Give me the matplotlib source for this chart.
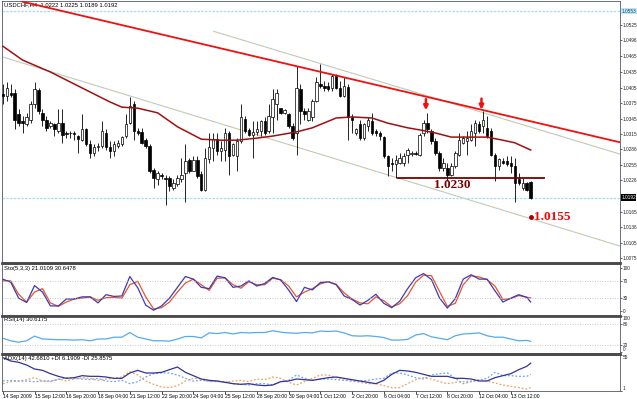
import numpy as np
import matplotlib
matplotlib.use("Agg")
import matplotlib.pyplot as plt
from matplotlib.lines import Line2D

plt.rcParams["font.family"] = ["Liberation Sans", "DejaVu Sans"]

# USDCHF H4 candles (bar 0 = 14 Sep 2009)
opens = [1.0392, 1.0389, 1.0395, 1.0395, 1.0353, 1.0340, 1.0334, 1.0343, 1.0373, 1.0400,
         1.0356, 1.0343, 1.0330, 1.0335, 1.0321, 1.0337, 1.0317, 1.0316, 1.0317, 1.0311,
         1.0304, 1.0324, 1.0295, 1.0279, 1.0290, 1.0292, 1.0317, 1.0290, 1.0282, 1.0292,
         1.0295, 1.0311, 1.0337, 1.0373, 1.0321, 1.0319, 1.0304, 1.0292, 1.0246, 1.0227,
         1.0236, 1.0230, 1.0229, 1.0210, 1.0218, 1.0227, 1.0240, 1.0264, 1.0244, 1.0264,
         1.0238, 1.0207, 1.0266, 1.0287, 1.0306, 1.0283, 1.0285, 1.0317, 1.0275, 1.0272,
         1.0301, 1.0345, 1.0322, 1.0313, 1.0319, 1.0321, 1.0341, 1.0321, 1.0347, 1.0373,
         1.0366, 1.0356, 1.0354, 1.0330, 1.0317, 1.0402, 1.0360, 1.0343, 1.0347, 1.0379,
         1.0412, 1.0408, 1.0408, 1.0405, 1.0428, 1.0405, 1.0389, 1.0406, 1.0347, 1.0317,
         1.0334, 1.0308, 1.0330, 1.0340, 1.0321, 1.0317, 1.0309, 1.0272, 1.0259, 1.0256,
         1.0259, 1.0259, 1.0275, 1.0277, 1.0279, 1.0275, 1.0317, 1.0337, 1.0321, 1.0301,
         1.0279, 1.0249, 1.0249, 1.0236, 1.0253, 1.0275, 1.0298, 1.0301, 1.0304, 1.0317,
         1.0334, 1.0330, 1.0327, 1.0321, 1.0275, 1.0253, 1.0262, 1.0262, 1.0259, 1.0253,
         1.0227, 1.0210, 1.0220, 1.0222]
highs = [1.0412, 1.0415, 1.0412, 1.0402, 1.0363, 1.0350, 1.0356, 1.0379, 1.0415, 1.0405,
         1.0363, 1.0350, 1.0340, 1.0337, 1.0363, 1.0363, 1.0321, 1.0321, 1.0321, 1.0313,
         1.0353, 1.0327, 1.0304, 1.0295, 1.0298, 1.0340, 1.0324, 1.0301, 1.0301, 1.0304,
         1.0311, 1.0353, 1.0386, 1.0379, 1.0327, 1.0327, 1.0308, 1.0295, 1.0249, 1.0243,
         1.0240, 1.0236, 1.0233, 1.0227, 1.0236, 1.0269, 1.0295, 1.0269, 1.0272, 1.0272,
         1.0243, 1.0288, 1.0317, 1.0317, 1.0317, 1.0301, 1.0327, 1.0321, 1.0298, 1.0308,
         1.0373, 1.0350, 1.0327, 1.0340, 1.0340, 1.0343, 1.0347, 1.0373, 1.0402, 1.0402,
         1.0366, 1.0363, 1.0356, 1.0337, 1.0447, 1.0412, 1.0366, 1.0366, 1.0382, 1.0425,
         1.0451, 1.0418, 1.0415, 1.0431, 1.0431, 1.0418, 1.0425, 1.0412, 1.0353, 1.0327,
         1.0343, 1.0337, 1.0347, 1.0356, 1.0324, 1.0321, 1.0311, 1.0275, 1.0269, 1.0275,
         1.0279, 1.0279, 1.0288, 1.0282, 1.0282, 1.0317, 1.0343, 1.0356, 1.0324, 1.0308,
         1.0282, 1.0269, 1.0259, 1.0259, 1.0282, 1.0317, 1.0311, 1.0321, 1.0334, 1.0343,
         1.0340, 1.0360, 1.0350, 1.0327, 1.0279, 1.0269, 1.0269, 1.0272, 1.0272, 1.0269,
         1.0240, 1.0230, 1.0223, 1.0225]
lows = [1.0373, 1.0379, 1.0386, 1.0324, 1.0330, 1.0317, 1.0330, 1.0337, 1.0366, 1.0353,
        1.0330, 1.0321, 1.0327, 1.0311, 1.0317, 1.0298, 1.0308, 1.0308, 1.0304, 1.0279,
        1.0301, 1.0292, 1.0269, 1.0272, 1.0282, 1.0288, 1.0285, 1.0269, 1.0272, 1.0287,
        1.0292, 1.0308, 1.0334, 1.0304, 1.0314, 1.0295, 1.0288, 1.0240, 1.0210, 1.0217,
        1.0227, 1.0178, 1.0204, 1.0207, 1.0214, 1.0223, 1.0184, 1.0240, 1.0243, 1.0230,
        1.0204, 1.0204, 1.0259, 1.0262, 1.0275, 1.0262, 1.0262, 1.0236, 1.0272, 1.0243,
        1.0298, 1.0317, 1.0311, 1.0269, 1.0313, 1.0311, 1.0314, 1.0317, 1.0317, 1.0343,
        1.0353, 1.0353, 1.0327, 1.0304, 1.0275, 1.0334, 1.0343, 1.0340, 1.0340, 1.0376,
        1.0405, 1.0399, 1.0399, 1.0399, 1.0402, 1.0386, 1.0386, 1.0304, 1.0317, 1.0314,
        1.0304, 1.0304, 1.0321, 1.0314, 1.0311, 1.0304, 1.0269, 1.0233, 1.0243, 1.0230,
        1.0256, 1.0253, 1.0259, 1.0272, 1.0275, 1.0272, 1.0311, 1.0317, 1.0295, 1.0275,
        1.0243, 1.0243, 1.0225, 1.0233, 1.0249, 1.0272, 1.0295, 1.0275, 1.0301, 1.0292,
        1.0317, 1.0317, 1.0308, 1.0272, 1.0225, 1.0246, 1.0256, 1.0253, 1.0240, 1.0184,
        1.0217, 1.0207, 1.0204, 1.0189]
closes = [1.0389, 1.0405, 1.0390, 1.0343, 1.0337, 1.0337, 1.0347, 1.0373, 1.0402, 1.0360,
          1.0343, 1.0327, 1.0337, 1.0324, 1.0337, 1.0314, 1.0315, 1.0316, 1.0315, 1.0306,
          1.0324, 1.0295, 1.0279, 1.0290, 1.0292, 1.0321, 1.0290, 1.0282, 1.0295, 1.0298,
          1.0309, 1.0334, 1.0369, 1.0321, 1.0317, 1.0298, 1.0292, 1.0243, 1.0230, 1.0240,
          1.0233, 1.0227, 1.0214, 1.0220, 1.0230, 1.0236, 1.0262, 1.0244, 1.0264, 1.0233,
          1.0207, 1.0269, 1.0290, 1.0306, 1.0282, 1.0287, 1.0317, 1.0272, 1.0295, 1.0301,
          1.0347, 1.0321, 1.0313, 1.0319, 1.0324, 1.0341, 1.0317, 1.0350, 1.0382, 1.0395,
          1.0356, 1.0361, 1.0330, 1.0308, 1.0405, 1.0360, 1.0353, 1.0360, 1.0379, 1.0415,
          1.0408, 1.0405, 1.0402, 1.0428, 1.0405, 1.0389, 1.0408, 1.0347, 1.0343, 1.0324,
          1.0308, 1.0334, 1.0343, 1.0317, 1.0316, 1.0311, 1.0272, 1.0253, 1.0256, 1.0264,
          1.0269, 1.0272, 1.0285, 1.0277, 1.0277, 1.0314, 1.0337, 1.0324, 1.0301, 1.0279,
          1.0249, 1.0259, 1.0236, 1.0253, 1.0279, 1.0304, 1.0308, 1.0308, 1.0321, 1.0337,
          1.0321, 1.0343, 1.0311, 1.0275, 1.0253, 1.0266, 1.0259, 1.0256, 1.0253, 1.0220,
          1.0220, 1.0220, 1.0207, 1.0192]

# moving average, read at a few bars
ma_bars = [0, 5, 12, 20, 27, 30, 34, 39, 44, 47, 50, 55, 59, 64, 68, 74, 78, 84, 88, 93,
           97, 102, 105, 109, 113, 117, 122, 126, 129, 133]
ma_vals = [1.0485, 1.0458, 1.0435, 1.0404, 1.0377, 1.0367, 1.0365, 1.0356, 1.0329, 1.0317,
           1.0305, 1.0303, 1.0303, 1.0307, 1.0311, 1.0319, 1.0327, 1.0346, 1.0348, 1.0346,
           1.0336, 1.0327, 1.0323, 1.0317, 1.0309, 1.0309, 1.0309, 1.0303, 1.0298, 1.0284]

# drawn objects (bar, price)
trend_bars = [5, 156]
trend_prices = [1.0571, 1.0298]
chan_up_bars = [53, 156]
chan_up_prices = [1.0514, 1.0275]
chan_lo_bars = [0, 156]
chan_lo_prices = [1.0464, 1.0097]
support_bars = [99.5, 136.3]
support_price = 1.0230
target_bar = 133
target_price = 1.0155
arrow_bars = [107, 121]
arrow_prices = [1.0361, 1.0362]
last_price = 1.0192
top_line_price = 1.0553

# indicators, read every second bar plus the last bar
ind_bars = list(range(0, 134, 2)) + [133]
sto_main = [74, 67, 30, 20, 59, 44, 12, 12, 28, 28, 33, 33, 19, 38, 34, 35, 80, 54, 14, 2,
            12, 30, 55, 80, 74, 55, 52, 81, 77, 55, 58, 70, 58, 64, 78, 72, 49, 22, 55, 49,
            66, 68, 61, 35, 27, 14, 25, 39, 18, 8, 23, 52, 77, 87, 73, 31, 7, 29, 74, 84,
            74, 74, 47, 21, 30, 38, 32, 21.0]
sto_signal = [70, 70, 39, 21, 44, 52, 19, 11, 21, 28, 30, 33, 25, 31, 32, 30, 61, 69, 33, 5,
              8, 21, 44, 65, 74, 61, 48, 76, 77, 61, 53, 68, 61, 61, 76, 73, 58, 33, 44, 52,
              63, 68, 62, 42, 28, 19, 17, 33, 24, 10, 17, 36, 67, 83, 82, 46, 11, 18, 61, 82,
              79, 73, 58, 27, 29, 36, 32, 30.6]
rsi = [39, 32, 28, 32, 45, 37, 36, 35, 35, 34, 35, 32, 37, 37, 42, 42, 55, 42, 37, 32,
       32, 31, 37, 44, 44, 40, 54, 52, 55, 51, 55, 54, 55, 55, 60, 56, 54, 53, 55, 54,
       59, 58, 59, 54, 46, 45, 46, 44, 41, 34, 34, 36, 48, 52, 43, 39, 35, 46, 51, 52,
       54, 46, 42, 42, 37, 32, 33, 30.6]
adx = [51, 46, 44, 40, 34, 32, 27, 23, 20, 21, 24, 23, 23, 22, 20, 20, 28, 32, 28, 28,
       29, 33, 37, 29, 24, 19, 17, 16, 14, 12, 11, 12, 10, 9, 10, 15, 16, 19, 18, 17,
       19, 21, 22, 20, 18, 16, 14, 12, 17, 26, 32, 31, 29, 26, 23, 23, 23, 20, 20, 19,
       16, 16, 21, 24, 27, 33, 38, 42.7]
minus_di = [16, 17, 16, 16, 15, 16, 16, 18, 21, 20, 19, 18, 20, 16, 15, 17, 12, 15, 22, 27,
            28, 28, 25, 20, 16, 17, 16, 15, 15, 12, 11, 10, 12, 12, 10, 15, 17, 25, 20, 17,
            19, 19, 18, 17, 16, 16, 17, 19, 20, 28, 28, 25, 21, 19, 25, 27, 28, 20, 12, 15,
            17, 20, 29, 24, 24, 23, 23, 25.9]
plus_di = [12, 15, 16, 18, 21, 16, 15, 19, 16, 19, 21, 20, 17, 19, 20, 22, 30, 25, 16, 11,
           7, 6, 9, 16, 20, 19, 15, 16, 14, 16, 17, 15, 19, 18, 22, 20, 14, 10, 15, 20,
           25, 25, 21, 19, 16, 14, 12, 12, 9, 6, 6, 12, 18, 21, 19, 15, 12, 14, 15, 16,
           18, 16, 13, 10, 8, 6, 4, 6.2]

date_labels = ["14 Sep 2009", "15 Sep 12:00", "16 Sep 20:00", "18 Sep 04:00", "21 Sep 12:00",
               "22 Sep 20:00", "24 Sep 04:00", "25 Sep 12:00", "28 Sep 20:00", "30 Sep 04:00",
               "1 Oct 12:00", "2 Oct 20:00", "6 Oct 04:00", "7 Oct 12:00", "8 Oct 20:00",
               "12 Oct 04:00", "13 Oct 12:00"]
price_ticks = [1.0525, 1.0496, 1.0465, 1.0435, 1.0405, 1.0375, 1.0345, 1.0315, 1.0286,
               1.0255, 1.0226, 1.0165, 1.0136, 1.0105, 1.0075]

W, H = 637, 399
LBL = 3.4
fig = plt.figure(figsize=(W / 100, H / 100), dpi=100)
fig.patch.set_facecolor("white")


def panel(top, bottom):
    a = fig.add_axes([2 / W, 1 - bottom / H, 618 / W, (bottom - top) / H])
    a.set_xlim(-0.2, 155.5)
    for s in a.spines.values():
        s.set_color("#555566")
        s.set_linewidth(0.6)
    a.yaxis.tick_right()
    a.tick_params(axis="y", direction="out", length=1.5, width=0.5, labelsize=LBL,
                  pad=0.4, colors="#222222")
    a.tick_params(axis="x", bottom=False, labelbottom=False)
    return a


ax = panel(1, 262)
ax_sto = panel(264, 315)
ax_rsi = panel(316, 353)
ax_adx = panel(355, 391)

# --- main price panel ---
o, h, l, c = map(np.array, (opens, highs, lows, closes))
idx = np.arange(len(o))
ax.vlines(idx, l, h, color="black", lw=0.6, zorder=2)
up = c >= o
hgt = np.maximum(np.abs(c - o), 0.00004)
ax.bar(idx[up], hgt[up], bottom=o[up], width=0.62, color="white",
       edgecolor="black", lw=0.5, zorder=3)
ax.bar(idx[~up], hgt[~up], bottom=c[~up], width=0.62, color="black",
       edgecolor="black", lw=0.5, zorder=3)

ax.plot(ma_bars, ma_vals, color="#a01010", lw=1.1, zorder=4)
ax.plot(trend_bars, trend_prices, color="#f01010", lw=1.3, zorder=4)
for bx, py in ((chan_up_bars, chan_up_prices), (chan_lo_bars, chan_lo_prices)):
    ax.plot(bx, py, color="#9fd0ea", lw=0.8, ls=(0, (4, 4)), zorder=1)
    ax.plot(bx, py, color="#e2bf84", lw=0.8, ls=(4, (4, 4)), zorder=1)

ax.axhline(last_price, color="#a9dcf0", lw=0.9, ls=(0, (2, 1)), zorder=1)
ax.axhline(top_line_price, color="#a9dcf0", lw=0.9, ls=(0, (2, 1)), zorder=1)
ax.plot(support_bars, [support_price] * 2, color="#7a0000", lw=1.3, zorder=4)
ax.text(113.3, 1.0216, "1.0230", color="#7a0000", fontsize=9.5, fontweight="bold",
        family="Liberation Serif", ha="center", va="center")
ax.plot([target_bar], [target_price], "o", color="#a00000", ms=2.5, zorder=5)
ax.text(target_bar + 0.8, target_price, "1.0155", color="#ff0000", fontsize=9.5,
        fontweight="bold", family="Liberation Serif", ha="left", va="center")
for bx, py in zip(arrow_bars, arrow_prices):
    ax.annotate("", xy=(bx - 0.4, py), xytext=(0, 8), textcoords="offset points",
                arrowprops=dict(arrowstyle="-|>", color="#f01010", lw=1.8,
                                mutation_scale=6, shrinkA=0, shrinkB=0),
                zorder=6)

ax.set_ylim(1.00673, 1.05724)
ax.set_yticks(price_ticks)
ax.set_yticklabels(["%.4f" % t for t in price_ticks])
ax.text(1.002, last_price, "%.4f" % last_price, transform=ax.get_yaxis_transform(),
        fontsize=LBL, color="white", va="center", ha="left",
        bbox=dict(boxstyle="square,pad=0.12", fc="black", ec="none"))
ax.text(1.002, top_line_price, "%.4f" % top_line_price, transform=ax.get_yaxis_transform(),
        fontsize=LBL, color="#224466", va="center", ha="left",
        bbox=dict(boxstyle="square,pad=0.12", fc="#bfe6f5", ec="none"))
ax.text(0.004, 0.995, "USDCHF,H4  %.4f %.4f %.4f %.4f" % (o[-1], h[-1], l[-1], c[-1]),
        transform=ax.transAxes, fontsize=4.2, va="top", ha="left")

# --- stochastic ---
ax_sto.plot(ind_bars, sto_signal, color="#e8552e", lw=0.9)
ax_sto.plot(ind_bars, sto_main, color="#3c3cb4", lw=0.9)
for lv in (30, 70):
    ax_sto.axhline(lv, color="#b8b8b8", lw=0.6, ls=(0, (1, 2)))
ax_sto.set_ylim(-9, 109)
ax_sto.set_yticks([100, 70, 30, 0])
ax_sto.set_yticklabels(["100", "70", "30", "0"])
ax_sto.text(0.004, 0.97, "Sto(5,3,3) %.4f %.4f" % (21.0109, 30.6478),
            transform=ax_sto.transAxes, fontsize=4.2, va="top")

# --- RSI ---
ax_rsi.plot(ind_bars, rsi, color="#55aaee", lw=0.9)
for lv in (20, 80):
    ax_rsi.axhline(lv, color="#b8b8b8", lw=0.6, ls=(0, (1, 2)))
ax_rsi.set_ylim(-2, 101)
ax_rsi.set_yticks([100, 80, 20, 0])
ax_rsi.set_yticklabels(["100", "80", "20", "0"])
lbls = ax_rsi.get_yticklabels()
lbls[0].set_va("top")
lbls[-1].set_va("bottom")
ax_rsi.text(0.004, 0.96, "RSI(14) 30.6175", transform=ax_rsi.transAxes,
            fontsize=4.2, va="top")

# --- ADX ---
ax_adx.plot(ind_bars, plus_di, color="#f0a060", lw=0.9, ls=(0, (1.5, 1.5)))
ax_adx.plot(ind_bars, minus_di, color="#6aa8ee", lw=0.9, ls=(0, (1.5, 1.5)))
ax_adx.plot(ind_bars, adx, color="#333399", lw=0.9)
ax_adx.set_ylim(1, 55)
ax_adx.set_yticks([55, 1])
ax_adx.set_yticklabels(["55", "1"])
lbls = ax_adx.get_yticklabels()
lbls[0].set_va("top")
lbls[1].set_va("bottom")
ax_adx.text(0.004, 0.96, "ADX(14) 42.6810 +DI 6.1909 -DI 25.8575",
            transform=ax_adx.transAxes, fontsize=4.2, va="top")
ax_adx.tick_params(axis="x", bottom=True, labelbottom=True, direction="out",
                   length=2, width=0.5, labelsize=3.6, pad=0.5)
ax_adx.set_xticks(list(range(0, 8 * len(date_labels), 8)))
ax_adx.set_xticklabels(date_labels, ha="left")

# panel separators
for yy in (263, 315.5, 354):
    fig.add_artist(Line2D([2 / W, 620 / W], [1 - yy / H] * 2, color="#4a4a4a", lw=2.0))

fig.savefig("out.png", dpi=100)
